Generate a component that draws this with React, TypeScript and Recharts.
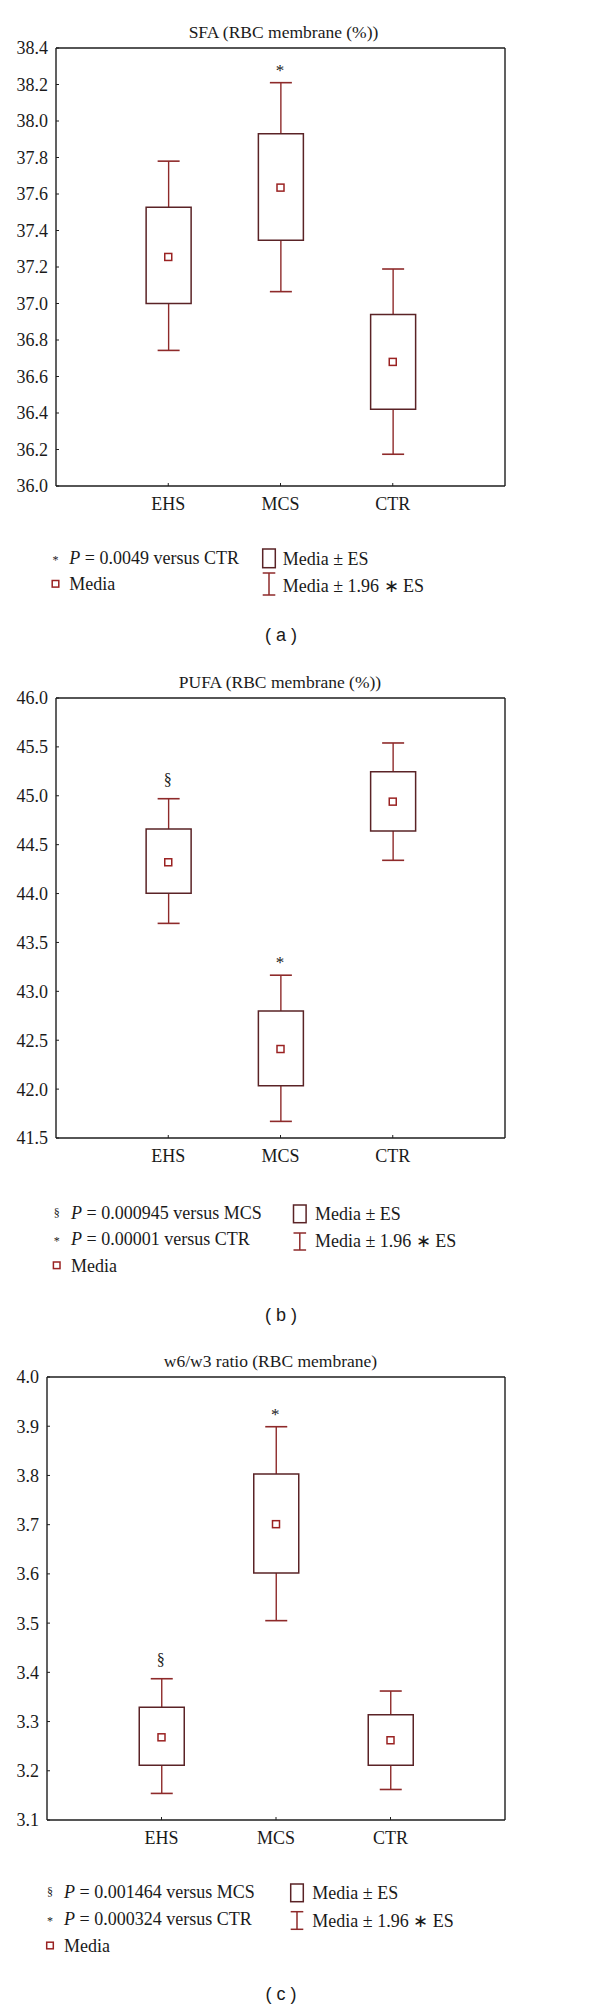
import React from "react";
import { ComposedChart, Bar, Line, XAxis, YAxis, LabelList } from "recharts";

const groups = ["EHS", "MCS", "CTR"];

// Panel (a) SFA
const sfaMean = [37.255, 37.635, 36.68];
const sfaBoxLow = [37.0, 37.346, 36.42];
const sfaBoxHigh = [37.527, 37.93, 36.94];
const sfaWhiskLow = [36.743, 37.065, 36.174];
const sfaWhiskHigh = [37.78, 38.21, 37.189];
const sfaSig = ["", "*", ""];
const sfaTicks = [36.0, 36.2, 36.4, 36.6, 36.8, 37.0, 37.2, 37.4, 37.6, 37.8, 38.0, 38.2, 38.4];

// Panel (b) PUFA
const pufaMean = [44.32, 42.41, 44.94];
const pufaBoxLow = [44.004, 42.035, 44.64];
const pufaBoxHigh = [44.66, 42.8, 45.245];
const pufaWhiskLow = [43.695, 41.67, 44.34];
const pufaWhiskHigh = [44.97, 43.165, 45.54];
const pufaSig = ["§", "*", ""];
const pufaTicks = [41.5, 42.0, 42.5, 43.0, 43.5, 44.0, 44.5, 45.0, 45.5, 46.0];

// Panel (c) w6/w3 ratio
const ratioMean = [3.268, 3.701, 3.262];
const ratioBoxLow = [3.211, 3.602, 3.211];
const ratioBoxHigh = [3.329, 3.803, 3.314];
const ratioWhiskLow = [3.154, 3.505, 3.162];
const ratioWhiskHigh = [3.387, 3.899, 3.362];
const ratioSig = ["§", "*", ""];
const ratioTicks = [3.1, 3.2, 3.3, 3.4, 3.5, 3.6, 3.7, 3.8, 3.9, 4.0];

const titles = ["SFA (RBC membrane (%))", "PUFA (RBC membrane (%))", "w6/w3 ratio (RBC membrane)"];
const panelLabels = ["( a )", "( b )", "( c )"];
const notesA = [{ sym: "*", text: " = 0.0049 versus CTR" }];
const notesB = [
  { sym: "§", text: " = 0.000945 versus MCS" },
  { sym: "*", text: " = 0.00001 versus CTR" },
];
const notesC = [
  { sym: "§", text: " = 0.001464 versus MCS" },
  { sym: "*", text: " = 0.000324 versus CTR" },
];
const legendMedia = "Media";
const legendBox = "Media ± ES";
const legendWhisk = "Media ± 1.96 ∗ ES";

const SERIF = "'Liberation Serif', 'Times New Roman', serif";
const SANS = "'Liberation Sans', Arial, sans-serif";
const FRAME = "#1e1e1e";
const BOX = "#5a2326";
const WHISK = "#8e2a2a";
const MEAN = "#9a2222";
const TEXT = "#1a1a1a";

function buildRows(mean, bl, bh, wl, wh, sig) {
  return groups.map((g, i) => ({
    group: g,
    mean: mean[i],
    box: [bl[i], bh[i]],
    whisker: [wl[i], wh[i]],
    sig: sig[i],
  }));
}

const WhiskerShape = (props: any) => {
  const { x, y, width, height } = props;
  const cx = x + width / 2;
  const top = Math.min(y, y + height);
  const bot = Math.max(y, y + height);
  const half = 11;
  return (
    <g>
      <line x1={cx} y1={top} x2={cx} y2={bot} stroke={WHISK} strokeWidth={1.4} />
      <line x1={cx - half} y1={top} x2={cx + half} y2={top} stroke={WHISK} strokeWidth={1.6} />
      <line x1={cx - half} y1={bot} x2={cx + half} y2={bot} stroke={WHISK} strokeWidth={1.6} />
    </g>
  );
};

const SigLabel = (props: any) => {
  const { x, y, width, height, value } = props;
  if (!value) return null;
  const top = Math.min(y, y + height);
  const isStar = value === "*";
  return (
    <text
      x={x + width / 2 - 1}
      y={top - (isStar ? 7 : 14)}
      textAnchor="middle"
      fontFamily={SERIF}
      fontSize={isStar ? 17 : 16}
      fill={TEXT}
    >
      {value}
    </text>
  );
};

const MeanDot = (props: any) => {
  const { cx, cy, index } = props;
  if (cx == null || cy == null) return null;
  return <rect key={"m" + index} x={cx - 3.5} y={cy - 3.5} width={7} height={7} fill="#fff" stroke={MEAN} strokeWidth={1.5} />;
};

function BoxChart({ rows, ticks, plotTop, plotLeft, plotRight, plotBottom }) {
  const mTop = 48;
  const axisH = 40;
  const plotH = plotBottom - plotTop;
  const height = mTop + plotH + axisH;
  const plotW = plotRight - plotLeft;
  const pad = plotW / 8;
  return (
    <div style={{ position: "absolute", left: 0, top: plotTop - mTop }}>
      <ComposedChart
        width={600}
        height={height}
        data={rows}
        margin={{ top: mTop - 1, right: 600 - plotRight - 1, bottom: 0, left: 0 }}
        barGap={0}
        barCategoryGap={0}
      >
        <XAxis
          xAxisId="main"
          dataKey="group"
          type="category"
          padding={{ left: pad, right: pad }}
          height={axisH}
          interval={0}
          tickSize={-3}
          tickMargin={14}
          axisLine={{ stroke: FRAME, strokeWidth: 1.4 }}
          tickLine={{ stroke: FRAME, strokeWidth: 1 }}
          tick={{ fill: TEXT, fontSize: 18, fontFamily: SERIF }}
        />
        <XAxis xAxisId="w" dataKey="group" type="category" padding={{ left: pad, right: pad }} hide />
        <XAxis
          xAxisId="top"
          orientation="top"
          dataKey="group"
          type="category"
          height={1}
          tick={false}
          tickLine={false}
          axisLine={{ stroke: FRAME, strokeWidth: 1.4 }}
        />
        <YAxis
          yAxisId="main"
          type="number"
          domain={[ticks[0], ticks[ticks.length - 1]]}
          ticks={ticks}
          interval={0}
          width={plotLeft}
          tickSize={-3}
          tickMargin={11}
          allowDataOverflow
          tickFormatter={(v) => Number(v).toFixed(1)}
          axisLine={{ stroke: FRAME, strokeWidth: 1.4 }}
          tickLine={{ stroke: FRAME, strokeWidth: 1 }}
          tick={{ fill: TEXT, fontSize: 18, fontFamily: SERIF }}
        />
        <YAxis
          yAxisId="right"
          orientation="right"
          type="number"
          domain={[ticks[0], ticks[ticks.length - 1]]}
          allowDataOverflow
          width={1}
          tick={false}
          tickLine={false}
          axisLine={{ stroke: FRAME, strokeWidth: 1.4 }}
        />
        <Line
          xAxisId="top"
          yAxisId="right"
          dataKey="mean"
          stroke="none"
          strokeWidth={0}
          dot={false}
          activeDot={false}
          legendType="none"
          isAnimationActive={false}
        />
        <Bar xAxisId="w" yAxisId="main" dataKey="whisker" barSize={45} shape={WhiskerShape} isAnimationActive={false}>
          <LabelList dataKey="sig" content={SigLabel} />
        </Bar>
        <Bar
          xAxisId="main"
          yAxisId="main"
          dataKey="box"
          barSize={45}
          fill="#ffffff"
          stroke={BOX}
          strokeWidth={1.5}
          isAnimationActive={false}
        />
        <Line
          xAxisId="main"
          yAxisId="main"
          dataKey="mean"
          stroke="none"
          strokeWidth={0}
          dot={MeanDot}
          activeDot={false}
          isAnimationActive={false}
        />
      </ComposedChart>
    </div>
  );
}

function Legend({ notes, noteX, symX, rowBase, mediaBase, rightX, textX, boxY, whiskY, rightBase1, rightBase2 }) {
  return (
    <g>
      {notes.map((n, i) => (
        <g key={i}>
          <text x={symX} y={rowBase[i] - (n.sym === "*" ? 0 : 2)} textAnchor="middle" fontFamily={SERIF} fontSize={12} fill={TEXT}>
            {n.sym}
          </text>
          <text x={noteX} y={rowBase[i]} fontFamily={SERIF} fontSize={18} fill={TEXT}>
            <tspan fontStyle="italic">P</tspan>
            {n.text}
          </text>
        </g>
      ))}
      <rect x={symX - 3.3} y={mediaBase - 9.5} width={6.6} height={6.6} fill="#fff" stroke={MEAN} strokeWidth={1.5} />
      <text x={noteX} y={mediaBase} fontFamily={SERIF} fontSize={18} fill={TEXT}>
        {legendMedia}
      </text>
      <rect x={rightX} y={boxY[0]} width={12.6} height={boxY[1] - boxY[0]} fill="#fff" stroke={BOX} strokeWidth={1.5} />
      <text x={textX} y={rightBase1} fontFamily={SERIF} fontSize={18} fill={TEXT}>
        {legendBox}
      </text>
      <line x1={rightX + 6.3} y1={whiskY[0]} x2={rightX + 6.3} y2={whiskY[1]} stroke={WHISK} strokeWidth={1.5} />
      <line x1={rightX} y1={whiskY[0]} x2={rightX + 12.6} y2={whiskY[0]} stroke={WHISK} strokeWidth={1.5} />
      <line x1={rightX} y1={whiskY[1]} x2={rightX + 12.6} y2={whiskY[1]} stroke={WHISK} strokeWidth={1.5} />
      <text x={textX} y={rightBase2} fontFamily={SERIF} fontSize={18} fill={TEXT}>
        {legendWhisk}
      </text>
    </g>
  );
}

export default function App() {
  const rowsA = buildRows(sfaMean, sfaBoxLow, sfaBoxHigh, sfaWhiskLow, sfaWhiskHigh, sfaSig);
  const rowsB = buildRows(pufaMean, pufaBoxLow, pufaBoxHigh, pufaWhiskLow, pufaWhiskHigh, pufaSig);
  const rowsC = buildRows(ratioMean, ratioBoxLow, ratioBoxHigh, ratioWhiskLow, ratioWhiskHigh, ratioSig);
  return (
    <div style={{ position: "absolute", left: 0, top: 0, width: 600, height: 2009, background: "#fff", overflow: "hidden" }}>
      <svg width={600} height={2009} style={{ position: "absolute", left: 0, top: 0 }}>
        <text x={283.5} y={37.5} textAnchor="middle" fontFamily={SERIF} fontSize={17.5} fill={TEXT}>{titles[0]}</text>
        <text x={280} y={687.5} textAnchor="middle" fontFamily={SERIF} fontSize={17.5} fill={TEXT}>{titles[1]}</text>
        <text x={270.5} y={1366.5} textAnchor="middle" fontFamily={SERIF} fontSize={17.5} fill={TEXT}>{titles[2]}</text>

        <text x={281} y={641} textAnchor="middle" fontFamily={SANS} fontSize={18} fill={TEXT}>{panelLabels[0]}</text>
        <text x={281} y={1320.5} textAnchor="middle" fontFamily={SANS} fontSize={18} fill={TEXT}>{panelLabels[1]}</text>
        <text x={281} y={2000} textAnchor="middle" fontFamily={SANS} fontSize={18} fill={TEXT}>{panelLabels[2]}</text>

        <Legend
          notes={notesA}
          noteX={69.3}
          symX={55.5}
          rowBase={[564]}
          mediaBase={590}
          rightX={262.7}
          textX={282.7}
          boxY={[549, 567.7]}
          whiskY={[573, 595]}
          rightBase1={565}
          rightBase2={592}
        />
        <Legend
          notes={notesB}
          noteX={71}
          symX={56.7}
          rowBase={[1219, 1245]}
          mediaBase={1271.5}
          rightX={293.5}
          textX={315}
          boxY={[1205, 1222.7]}
          whiskY={[1233, 1250]}
          rightBase1={1219.5}
          rightBase2={1247}
        />
        <Legend
          notes={notesC}
          noteX={64}
          symX={50}
          rowBase={[1898, 1925]}
          mediaBase={1951.7}
          rightX={290.7}
          textX={312.3}
          boxY={[1884, 1901.7]}
          whiskY={[1911.7, 1929.3]}
          rightBase1={1899}
          rightBase2={1926.7}
        />
      </svg>

      <BoxChart rows={rowsA} ticks={sfaTicks} plotTop={48} plotLeft={56} plotRight={505} plotBottom={486} />
      <BoxChart rows={rowsB} ticks={pufaTicks} plotTop={698} plotLeft={56} plotRight={505} plotBottom={1138} />
      <BoxChart rows={rowsC} ticks={ratioTicks} plotTop={1377} plotLeft={47} plotRight={505} plotBottom={1820} />
    </div>
  );
}
